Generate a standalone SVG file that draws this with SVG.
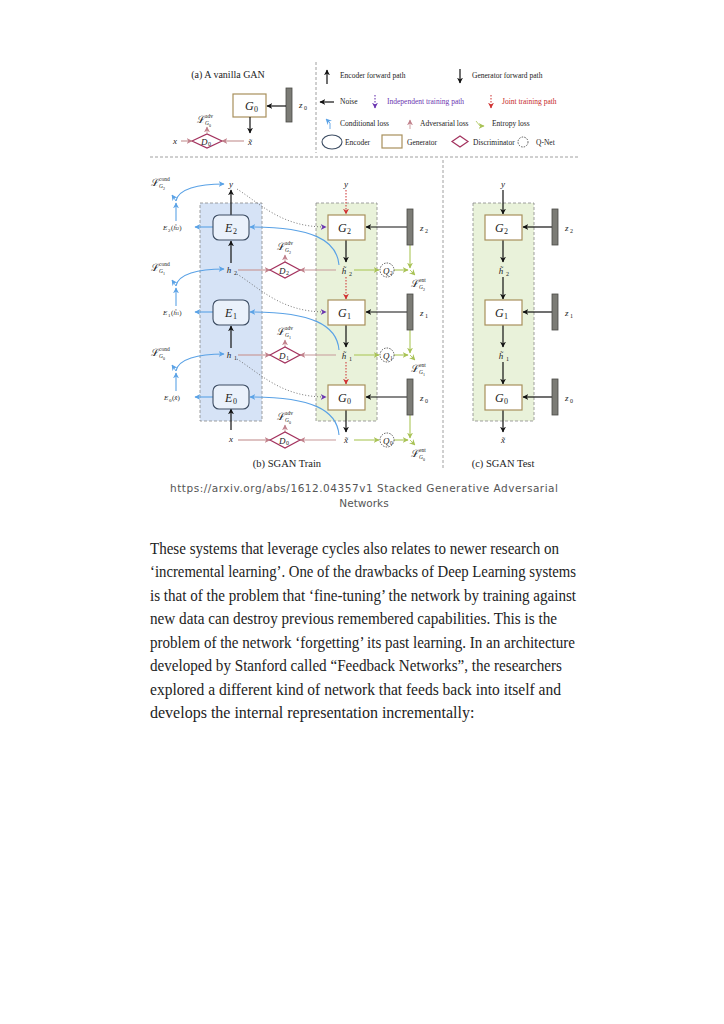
<svg xmlns="http://www.w3.org/2000/svg" width="724" height="1024" viewBox="0 0 724 1024">
<style>
.t{font-family:"Liberation Serif","DejaVu Serif",serif;fill:#222}
.i{font-style:italic}
.lg{font-size:7.5px}
.box{fill:#fff;stroke:#a8905c;stroke-width:1.2}
.enc{fill:#eaf1fb;stroke:#3d4d63;stroke-width:1.1}
.dis{fill:#fff;stroke:#a3325e;stroke-width:1.2}
.q{fill:#fff;stroke:#333;stroke-width:0.8;stroke-dasharray:1.5,1.2}
.bar{fill:#7c7c76;stroke:#4a4a46;stroke-width:0.8}
.k{stroke:#111;stroke-width:1.2;fill:none;marker-end:url(#mk)}
.b{stroke:#5aa2e6;stroke-width:1.1;fill:none;marker-end:url(#mb)}
.p{stroke:#c89a9a;stroke-width:1.2;fill:none;marker-end:url(#mp)}
.g{stroke:#b3cc66;stroke-width:1.2;fill:none;marker-end:url(#mg)}
.r{stroke:#d04040;stroke-width:1.1;fill:none;stroke-dasharray:1.5,1.5;marker-end:url(#mr)}
.dot{stroke:#666;stroke-width:0.9;fill:none;stroke-dasharray:1,2;marker-end:url(#mv)}
.reg{stroke:#888;stroke-width:0.8;stroke-dasharray:3,2}
.para{font-family:"Liberation Serif","DejaVu Serif",serif;font-size:16px;fill:#222}
</style>
<defs>
<marker id="mk" viewBox="0 0 10 10" refX="9" refY="5" markerWidth="6" markerHeight="6" markerUnits="userSpaceOnUse" orient="auto"><path d="M0,0 L10,5 L0,10 L3,5 z" fill="#111"/></marker>
<marker id="mb" viewBox="0 0 10 10" refX="9" refY="5" markerWidth="6" markerHeight="6" markerUnits="userSpaceOnUse" orient="auto"><path d="M0,0 L10,5 L0,10 L3,5 z" fill="#5aa2e6"/></marker>
<marker id="mp" viewBox="0 0 10 10" refX="9" refY="5" markerWidth="6" markerHeight="6" markerUnits="userSpaceOnUse" orient="auto"><path d="M0,0 L10,5 L0,10 L3,5 z" fill="#c07f8a"/></marker>
<marker id="mg" viewBox="0 0 10 10" refX="9" refY="5" markerWidth="6" markerHeight="6" markerUnits="userSpaceOnUse" orient="auto"><path d="M0,0 L10,5 L0,10 L3,5 z" fill="#a8c255"/></marker>
<marker id="mr" viewBox="0 0 10 10" refX="9" refY="5" markerWidth="6" markerHeight="6" markerUnits="userSpaceOnUse" orient="auto"><path d="M0,0 L10,5 L0,10 L3,5 z" fill="#d03030"/></marker>
<marker id="mv" viewBox="0 0 10 10" refX="9" refY="5" markerWidth="6" markerHeight="6" markerUnits="userSpaceOnUse" orient="auto"><path d="M0,0 L10,5 L0,10 L3,5 z" fill="#6a35b0"/></marker>
</defs>
<rect width="724" height="1024" fill="#fff"/>

<!-- panel (a) -->
<g id="panel-a">
<text class="t" x="228" y="78" font-size="10" text-anchor="middle">(a) A vanilla GAN</text>
<g id="a-G0"><rect class="box" x="233" y="94" width="33" height="23"/><text class="t i" x="245" y="110" font-size="12">G</text><text class="t" x="254" y="112" font-size="8">0</text></g>
<g id="a-z0"><rect class="bar" x="286" y="88" width="6" height="34"/><text class="t i" x="299" y="108" font-size="9">z</text><text class="t" x="304" y="110" font-size="6">0</text></g>
<g id="a-D0"><polygon class="dis" points="192,141 207,134 222,141 207,148"/><text class="t i" x="201" y="144.5" font-size="9">D</text><text class="t" x="208" y="146" font-size="6">0</text></g>
<text class="t i" x="173" y="144" font-size="9">x</text>
<text class="t i" x="248" y="145" font-size="9">x̃</text>
<g id="a-Ladv"><text class="t" x="197" y="123" font-size="10">ℒ</text><text class="t" x="205" y="118" font-size="5.5">adv</text><text class="t i" x="205" y="125" font-size="5.5">G</text><text class="t" x="209" y="126.5" font-size="4">0</text></g>
</g>

<!-- legend -->
<g id="legend">
<line x1="316" y1="62" x2="316" y2="153" class="reg"/>
<line x1="327" y1="84" x2="327" y2="70" class="k"/>
<text class="t lg" x="340" y="78">Encoder forward path</text>
<line x1="460" y1="69" x2="460" y2="83" class="k"/>
<text class="t lg" x="472" y="78">Generator forward path</text>
<line x1="334" y1="102" x2="320" y2="102" class="k"/>
<text class="t lg" x="340" y="104">Noise</text>
<line x1="375" y1="95" x2="375" y2="108" style="stroke:#6a35b0;stroke-width:1.1;stroke-dasharray:1.5,1.5;marker-end:url(#mv)"/>
<text class="t lg" x="387" y="104" style="fill:#6a35b0">Independent training path</text>
<line x1="491" y1="95" x2="491" y2="108" class="r"/>
<text class="t lg" x="502" y="104" style="fill:#c62828">Joint training path</text>
<path d="M330 129 L330 123 L326 119" class="b" style="stroke-width:0.9"/>
<text class="t lg" x="340" y="126">Conditional loss</text>
<line x1="410" y1="129" x2="410" y2="120" class="p" style="stroke-width:0.9"/>
<text class="t lg" x="420" y="126">Adversarial loss</text>
<path d="M476 121 L480 126 L484 126" class="g" style="stroke-width:0.9"/>
<text class="t lg" x="492" y="126">Entropy loss</text>
<ellipse class="enc" cx="332" cy="142" rx="10" ry="7" style="fill:#fff"/>
<text class="t lg" x="345" y="145">Encoder</text>
<rect class="box" x="382" y="135" width="20" height="13"/>
<text class="t lg" x="407" y="145">Generator</text>
<polygon class="dis" points="452,141.5 460,136 468,141.5 460,147"/>
<text class="t lg" x="473" y="145">Discriminator</text>
<circle class="q" cx="523" cy="142" r="5"/>
<text class="t lg" x="536" y="145">Q-Net</text>
</g>

<line x1="150" y1="157" x2="578" y2="157" class="reg"/>
<line x1="443" y1="160" x2="443" y2="470" class="reg"/>

<!-- regions -->
<rect x="200" y="203" width="62" height="218" fill="#d6e3f6" class="reg"/>
<rect x="316" y="203" width="61" height="218" fill="#e9f2da" class="reg"/>
<rect x="473" y="203" width="61" height="218" fill="#e9f2da" class="reg"/>

<!-- connectors -->
<g id="connectors">
<line x1="286" y1="106" x2="267" y2="106" class="k"/>
<line x1="250" y1="117" x2="250" y2="133" class="k"/>
<line x1="181" y1="141" x2="192" y2="141" class="p"/>
<line x1="244" y1="141" x2="222" y2="141" class="p"/>
<line x1="207" y1="134" x2="207" y2="127" class="p" style="stroke-width:0.9"/>

<line x1="231" y1="215" x2="231" y2="190" class="k"/>
<line x1="231" y1="263" x2="231" y2="241" class="k"/>
<line x1="231" y1="348" x2="231" y2="326" class="k"/>
<line x1="231" y1="430" x2="231" y2="409" class="k"/>
<line x1="213" y1="227" x2="195" y2="227" class="b"/>
<line x1="213" y1="312" x2="195" y2="312" class="b"/>
<line x1="213" y1="397" x2="195" y2="397" class="b"/>
<line x1="176" y1="221" x2="176" y2="203" class="b"/>
<path d="M176 201 C178 189 198 184 224 184" class="b"/>
<path d="M176 201 L172 195" class="b" style="stroke-width:0.9"/>
<line x1="176" y1="306" x2="176" y2="288" class="b"/>
<path d="M176 286 C178 274 198 269 224 269" class="b"/>
<path d="M176 286 L172 280" class="b" style="stroke-width:0.9"/>
<line x1="176" y1="391" x2="176" y2="373" class="b"/>
<path d="M176 371 C178 359 198 354 224 354" class="b"/>
<path d="M176 371 L172 365" class="b" style="stroke-width:0.9"/>
<path d="M339 265 C337 240 312 227 250 227" class="b"/>
<path d="M339 350 C337 325 312 312 250 312" class="b"/>
<path d="M339 435 C337 410 312 397 250 397" class="b"/>
<path d="M237 189 C262 205 282 227 326 227" class="dot"/>
<path d="M237 274 C262 290 282 312 326 312" class="dot"/>
<path d="M237 359 C262 375 282 397 326 397" class="dot"/>
<line x1="238" y1="270" x2="270" y2="270" class="p"/>
<line x1="336" y1="270" x2="300" y2="270" class="p"/>
<line x1="285" y1="262" x2="285" y2="255" class="p" style="stroke-width:0.9"/>
<line x1="238" y1="355" x2="270" y2="355" class="p"/>
<line x1="336" y1="355" x2="300" y2="355" class="p"/>
<line x1="285" y1="347" x2="285" y2="340" class="p" style="stroke-width:0.9"/>
<line x1="238" y1="440" x2="270" y2="440" class="p"/>
<line x1="336" y1="440" x2="300" y2="440" class="p"/>
<line x1="285" y1="432" x2="285" y2="425" class="p" style="stroke-width:0.9"/>
<line x1="346" y1="190" x2="346" y2="214" class="r"/>
<line x1="346" y1="240" x2="346" y2="262" class="k"/>
<line x1="346" y1="277" x2="346" y2="299" class="r"/>
<line x1="346" y1="325" x2="346" y2="347" class="k"/>
<line x1="346" y1="362" x2="346" y2="384" class="r"/>
<line x1="346" y1="410" x2="346" y2="432" class="k"/>
<line x1="407" y1="227" x2="366" y2="227" class="k"/>
<line x1="407" y1="312" x2="366" y2="312" class="k"/>
<line x1="407" y1="397" x2="366" y2="397" class="k"/>
<line x1="354" y1="270" x2="379" y2="270" class="g"/>
<line x1="394" y1="270" x2="408" y2="270" class="g"/>
<line x1="410" y1="245" x2="410" y2="268" class="g"/>
<line x1="410" y1="270" x2="415" y2="275" class="g" style="stroke-width:0.9"/>
<line x1="354" y1="355" x2="379" y2="355" class="g"/>
<line x1="394" y1="355" x2="408" y2="355" class="g"/>
<line x1="410" y1="330" x2="410" y2="353" class="g"/>
<line x1="410" y1="355" x2="415" y2="360" class="g" style="stroke-width:0.9"/>
<line x1="354" y1="440" x2="379" y2="440" class="g"/>
<line x1="394" y1="440" x2="408" y2="440" class="g"/>
<line x1="410" y1="415" x2="410" y2="438" class="g"/>
<line x1="410" y1="440" x2="415" y2="445" class="g" style="stroke-width:0.9"/>
<line x1="503" y1="190" x2="503" y2="214" class="k"/>
<line x1="503" y1="240" x2="503" y2="262" class="k"/>
<line x1="503" y1="277" x2="503" y2="299" class="k"/>
<line x1="503" y1="325" x2="503" y2="347" class="k"/>
<line x1="503" y1="362" x2="503" y2="384" class="k"/>
<line x1="503" y1="410" x2="503" y2="432" class="k"/>
<line x1="552" y1="227" x2="523" y2="227" class="k"/>
<line x1="552" y1="312" x2="523" y2="312" class="k"/>
<line x1="552" y1="397" x2="523" y2="397" class="k"/>
</g>

<g id="E2"><rect class="enc" x="213" y="215" width="36" height="25" rx="6"/><text class="t i" x="225" y="232" font-size="12">E</text><text class="t" x="233" y="234" font-size="8">2</text></g>
<g id="E1"><rect class="enc" x="213" y="300" width="36" height="25" rx="6"/><text class="t i" x="225" y="317" font-size="12">E</text><text class="t" x="233" y="319" font-size="8">1</text></g>
<g id="E0"><rect class="enc" x="213" y="385" width="36" height="24" rx="6"/><text class="t i" x="225" y="402" font-size="12">E</text><text class="t" x="233" y="404" font-size="8">0</text></g>

<g id="enc-labels">
<text class="t i" x="231" y="187" font-size="9" text-anchor="middle">y</text>
<text class="t i" x="229" y="273" font-size="9" text-anchor="middle">h</text><text class="t" x="234" y="275" font-size="6">2</text>
<text class="t i" x="229" y="358" font-size="9" text-anchor="middle">h</text><text class="t" x="234" y="360" font-size="6">1</text>
<text class="t i" x="231" y="442" font-size="9" text-anchor="middle">x</text>
<text class="t i" x="163" y="230" font-size="7">E</text><text class="t" x="168" y="231.5" font-size="5">2</text><text class="t" x="171" y="230" font-size="7">(<tspan class="i">ĥ</tspan><tspan font-size="5">2</tspan>)</text>
<text class="t i" x="163" y="315" font-size="7">E</text><text class="t" x="168" y="316.5" font-size="5">1</text><text class="t" x="171" y="315" font-size="7">(<tspan class="i">ĥ</tspan><tspan font-size="5">1</tspan>)</text>
<text class="t i" x="164" y="400" font-size="7">E</text><text class="t" x="169" y="401.5" font-size="5">0</text><text class="t" x="172" y="400" font-size="7">(<tspan class="i">x̂</tspan>)</text>
<g><text class="t" x="151" y="186" font-size="10">ℒ</text><text class="t" x="159" y="181" font-size="5.5">cond</text><text class="t i" x="159" y="188" font-size="5.5">G</text><text class="t" x="163" y="189.5" font-size="4">2</text></g>
<g><text class="t" x="151" y="271" font-size="10">ℒ</text><text class="t" x="159" y="266" font-size="5.5">cond</text><text class="t i" x="159" y="273" font-size="5.5">G</text><text class="t" x="163" y="274.5" font-size="4">1</text></g>
<g><text class="t" x="151" y="356" font-size="10">ℒ</text><text class="t" x="159" y="351" font-size="5.5">cond</text><text class="t i" x="159" y="358" font-size="5.5">G</text><text class="t" x="163" y="359.5" font-size="4">0</text></g>
</g>

<g id="D2"><polygon class="dis" points="270,270 285,262 300,270 285,278"/><text class="t i" x="279" y="273.5" font-size="9">D</text><text class="t" x="286" y="275" font-size="6">2</text></g>
<g id="D1"><polygon class="dis" points="270,355 285,347 300,355 285,363"/><text class="t i" x="279" y="358.5" font-size="9">D</text><text class="t" x="286" y="360" font-size="6">1</text></g>
<g id="D0"><polygon class="dis" points="270,440 285,432 300,440 285,448"/><text class="t i" x="279" y="443.5" font-size="9">D</text><text class="t" x="286" y="445" font-size="6">0</text></g>
<g id="adv-labels">
<g><text class="t" x="277" y="250" font-size="10">ℒ</text><text class="t" x="285" y="245" font-size="5.5">adv</text><text class="t i" x="285" y="252" font-size="5.5">G</text><text class="t" x="289" y="253.5" font-size="4">2</text></g>
<g><text class="t" x="277" y="335" font-size="10">ℒ</text><text class="t" x="285" y="330" font-size="5.5">adv</text><text class="t i" x="285" y="337" font-size="5.5">G</text><text class="t" x="289" y="338.5" font-size="4">1</text></g>
<g><text class="t" x="277" y="420" font-size="10">ℒ</text><text class="t" x="285" y="415" font-size="5.5">adv</text><text class="t i" x="285" y="422" font-size="5.5">G</text><text class="t" x="289" y="423.5" font-size="4">0</text></g>
</g>

<g id="G2-train"><rect class="box" x="328" y="215" width="37" height="25"/><text class="t i" x="338" y="232" font-size="12">G</text><text class="t" x="347" y="234" font-size="8">2</text></g>
<g id="G1-train"><rect class="box" x="328" y="300" width="37" height="25"/><text class="t i" x="338" y="317" font-size="12">G</text><text class="t" x="347" y="319" font-size="8">1</text></g>
<g id="G0-train"><rect class="box" x="328" y="385" width="37" height="25"/><text class="t i" x="338" y="402" font-size="12">G</text><text class="t" x="347" y="404" font-size="8">0</text></g>
<g id="gen-train-labels">
<text class="t i" x="346" y="187" font-size="9" text-anchor="middle">y</text>
<text class="t i" x="344" y="274" font-size="9" text-anchor="middle">h̃</text><text class="t" x="349" y="276" font-size="6">2</text>
<text class="t i" x="344" y="359" font-size="9" text-anchor="middle">h̃</text><text class="t" x="349" y="361" font-size="6">1</text>
<text class="t i" x="346" y="443" font-size="9" text-anchor="middle">x̃</text>
</g>
<g id="Q2"><circle class="q" cx="387" cy="270" r="7"/><text class="t i" x="383" y="273.5" font-size="9">Q</text><text class="t" x="390" y="275" font-size="5.5">2</text></g>
<g id="Q1"><circle class="q" cx="387" cy="355" r="7"/><text class="t i" x="383" y="358.5" font-size="9">Q</text><text class="t" x="390" y="360" font-size="5.5">1</text></g>
<g id="Q0"><circle class="q" cx="387" cy="440" r="7"/><text class="t i" x="383" y="443.5" font-size="9">Q</text><text class="t" x="390" y="445" font-size="5.5">0</text></g>
<g id="ent-labels">
<g><text class="t" x="411" y="287" font-size="10">ℒ</text><text class="t" x="419" y="282" font-size="5.5">ent</text><text class="t i" x="419" y="289" font-size="5.5">G</text><text class="t" x="423" y="290.5" font-size="4">2</text></g>
<g><text class="t" x="411" y="372" font-size="10">ℒ</text><text class="t" x="419" y="367" font-size="5.5">ent</text><text class="t i" x="419" y="374" font-size="5.5">G</text><text class="t" x="423" y="375.5" font-size="4">1</text></g>
<g><text class="t" x="411" y="457" font-size="10">ℒ</text><text class="t" x="419" y="452" font-size="5.5">ent</text><text class="t i" x="419" y="459" font-size="5.5">G</text><text class="t" x="423" y="460.5" font-size="4">0</text></g>
</g>
<g id="noise-train">
<rect class="bar" x="407" y="209" width="6" height="36"/><text class="t i" x="420" y="231" font-size="9">z</text><text class="t" x="425" y="233" font-size="6">2</text>
<rect class="bar" x="407" y="294" width="6" height="36"/><text class="t i" x="420" y="316" font-size="9">z</text><text class="t" x="425" y="318" font-size="6">1</text>
<rect class="bar" x="407" y="379" width="6" height="36"/><text class="t i" x="420" y="401" font-size="9">z</text><text class="t" x="425" y="403" font-size="6">0</text>
</g>

<g id="G2-test"><rect class="box" x="485" y="215" width="37" height="25"/><text class="t i" x="495" y="232" font-size="12">G</text><text class="t" x="504" y="234" font-size="8">2</text></g>
<g id="G1-test"><rect class="box" x="485" y="300" width="37" height="25"/><text class="t i" x="495" y="317" font-size="12">G</text><text class="t" x="504" y="319" font-size="8">1</text></g>
<g id="G0-test"><rect class="box" x="485" y="385" width="37" height="25"/><text class="t i" x="495" y="402" font-size="12">G</text><text class="t" x="504" y="404" font-size="8">0</text></g>
<g id="test-labels">
<text class="t i" x="503" y="187" font-size="9" text-anchor="middle">y</text>
<text class="t i" x="501" y="274" font-size="9" text-anchor="middle">h̃</text><text class="t" x="506" y="276" font-size="6">2</text>
<text class="t i" x="501" y="359" font-size="9" text-anchor="middle">h̃</text><text class="t" x="506" y="361" font-size="6">1</text>
<text class="t i" x="503" y="443" font-size="9" text-anchor="middle">x̃</text>
</g>
<g id="noise-test">
<rect class="bar" x="552" y="209" width="6" height="36"/><text class="t i" x="565" y="231" font-size="9">z</text><text class="t" x="570" y="233" font-size="6">2</text>
<rect class="bar" x="552" y="294" width="6" height="36"/><text class="t i" x="565" y="316" font-size="9">z</text><text class="t" x="570" y="318" font-size="6">1</text>
<rect class="bar" x="552" y="379" width="6" height="36"/><text class="t i" x="565" y="401" font-size="9">z</text><text class="t" x="570" y="403" font-size="6">0</text>
</g>

<text class="t" x="287" y="467" font-size="10.5" text-anchor="middle">(b) SGAN Train</text>
<text class="t" x="503" y="467" font-size="10.5" text-anchor="middle">(c) SGAN Test</text>

<g id="caption" style="font-family:'DejaVu Sans','Liberation Sans',sans-serif;font-size:10.5px;fill:#555">
<text x="170" y="492" textLength="388" lengthAdjust="spacing">https://arxiv.org/abs/1612.04357v1 Stacked Generative Adversarial</text>
<text x="364" y="507" text-anchor="middle">Networks</text>
</g>

<g id="paragraph">
<text class="para" x="150" y="554" textLength="409" lengthAdjust="spacingAndGlyphs">These systems that leverage cycles also relates to newer research on</text>
<text class="para" x="150" y="577" textLength="426" lengthAdjust="spacingAndGlyphs">‘incremental learning’. One of the drawbacks of Deep Learning systems</text>
<text class="para" x="150" y="601" textLength="426" lengthAdjust="spacingAndGlyphs">is that of the problem that ‘fine-tuning’ the network by training against</text>
<text class="para" x="150" y="624" textLength="407" lengthAdjust="spacingAndGlyphs">new data can destroy previous remembered capabilities. This is the</text>
<text class="para" x="150" y="648" textLength="425" lengthAdjust="spacingAndGlyphs">problem of the network ‘forgetting’ its past learning. In an architecture</text>
<text class="para" x="150" y="671" textLength="412" lengthAdjust="spacingAndGlyphs">developed by Stanford called “Feedback Networks”, the researchers</text>
<text class="para" x="150" y="695" textLength="411" lengthAdjust="spacingAndGlyphs">explored a different kind of network that feeds back into itself and</text>
<text class="para" x="150" y="718">develops the internal representation incrementally:</text>
</g>
</svg>
